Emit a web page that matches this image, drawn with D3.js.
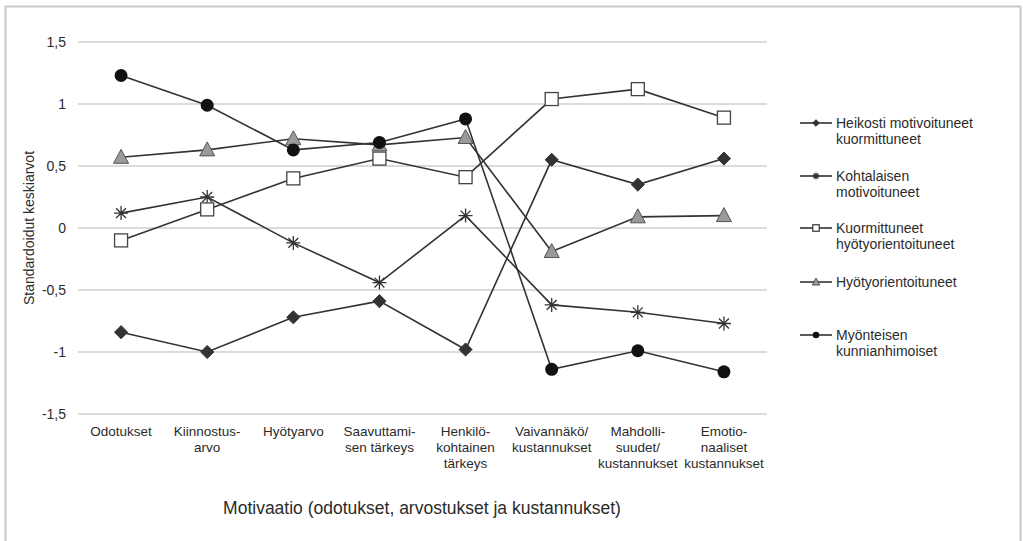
<!DOCTYPE html>
<html>
<head>
<meta charset="utf-8">
<title>Motivaatioprofiilit</title>
<script src="https://cdnjs.cloudflare.com/ajax/libs/d3/7.8.5/d3.min.js"></script>
<style>
  body { margin: 0; background: #fff; }
  svg text { font-family: "Liberation Sans", Arial, sans-serif; fill: #2b2b2b; }
</style>
</head>
<body>
<div id="chart"></div>
<script>
var categories = [
  ["Odotukset"],
  ["Kiinnostus-", "arvo"],
  ["Hyötyarvo"],
  ["Saavuttami-", "sen tärkeys"],
  ["Henkilö-", "kohtainen", "tärkeys"],
  ["Vaivannäkö/", "kustannukset"],
  ["Mahdolli-", "suudet/", "kustannukset"],
  ["Emotio-", "naaliset", "kustannukset"]
];
var yTicks = [1.5, 1, 0.5, 0, -0.5, -1, -1.5];

var heikosti = [-0.84, -1.0, -0.72, -0.59, -0.98, 0.55, 0.35, 0.56];
var kohtalaisen = [0.12, 0.25, -0.12, -0.44, 0.10, -0.62, -0.68, -0.77];
var kuormittuneet = [-0.10, 0.15, 0.40, 0.56, 0.41, 1.04, 1.12, 0.89];
var hyotyorient = [0.57, 0.63, 0.72, 0.67, 0.73, -0.19, 0.09, 0.10];
var myonteisen = [1.23, 0.99, 0.63, 0.69, 0.88, -1.14, -0.99, -1.16];

var seriesNames = [
  ["Heikosti motivoituneet", "kuormittuneet"],
  ["Kohtalaisen", "motivoituneet"],
  ["Kuormittuneet", "hyötyorientoituneet"],
  ["Hyötyorientoituneet"],
  ["Myönteisen", "kunnianhimoiset"]
];
var seriesData = [heikosti, kohtalaisen, kuormittuneet, hyotyorient, myonteisen];
var markers = ["diamond", "asterisk", "square", "triangle", "circle"];

var W = 1023, H = 541;
var svg = d3.select("#chart").append("svg").attr("width", W).attr("height", H);

// frame
svg.append("rect").attr("x", 5.5).attr("y", 6.5).attr("width", 1015).attr("height", 560)
  .attr("fill", "none").attr("stroke", "#c8c8c8").attr("stroke-width", 2);

var plotL = 78, plotR = 767, plotT = 42, plotB = 414;
var x = d3.scaleBand().domain(d3.range(categories.length)).range([plotL, plotR]);
var y = d3.scaleLinear().domain([-1.5, 1.5]).range([plotB, plotT]);
var cx = i => x(i) + x.bandwidth() / 2;

// gridlines
svg.append("g").selectAll("line").data(yTicks).join("line")
  .attr("x1", plotL).attr("x2", plotR)
  .attr("y1", d => y(d)).attr("y2", d => y(d))
  .attr("stroke", "#cfcfcf").attr("stroke-width", 1.5);

// y tick labels
svg.append("g").selectAll("text").data(yTicks).join("text")
  .attr("x", 66).attr("y", d => y(d)).attr("dy", "0.35em")
  .attr("text-anchor", "end").style("font-size", "14px")
  .text(d => String(d).replace(".", ","));

// x tick labels
var xl = svg.append("g").selectAll("text").data(categories).join("text")
  .attr("text-anchor", "middle").style("font-size", "13.5px")
  .attr("x", (d, i) => cx(i)).attr("y", 436);
xl.each(function (d, i) {
  d3.select(this).selectAll("tspan").data(d).join("tspan")
    .attr("x", cx(i)).attr("dy", (t, j) => j === 0 ? 0 : 16).text(t => t);
});

// axis titles
svg.append("text").attr("x", 422).attr("y", 514).attr("text-anchor", "middle")
  .style("font-size", "17.5px").text("Motivaatio (odotukset, arvostukset ja kustannukset)");
svg.append("text").attr("transform", "translate(34," + y(0) + ") rotate(-90)")
  .attr("text-anchor", "middle").style("font-size", "14px")
  .text("Standardoidut keskiarvot");

var line = d3.line().x((d, i) => cx(i)).y(d => y(d));

function drawMarker(g, type, s) {
  var k = s || 1;
  if (type === "diamond") {
    g.append("path").attr("d", d3.symbol(d3.symbolDiamond2, 110 * k * k)())
      .attr("fill", "#333").attr("stroke", "#333").attr("stroke-width", 1);
  } else if (type === "circle") {
    g.append("circle").attr("r", 6.5 * k).attr("fill", "#111");
  } else if (type === "square") {
    g.append("rect").attr("x", -6.5 * k).attr("y", -6.5 * k).attr("width", 13 * k).attr("height", 13 * k)
      .attr("fill", "#fff").attr("stroke", "#444").attr("stroke-width", 1.3);
  } else if (type === "triangle") {
    g.append("path").attr("d", "M0," + (-8 * k) + "L" + (7.5 * k) + "," + (6 * k) + "L" + (-7.5 * k) + "," + (6 * k) + "Z")
      .attr("fill", "#9a9a9a").attr("stroke", "#555").attr("stroke-width", 1);
  } else if (type === "asterisk") {
    var r = 7 * k;
    var p = "";
    [0, 45, 90, 135].forEach(function (a) {
      var rad = a * Math.PI / 180, dx = Math.cos(rad) * r, dy = Math.sin(rad) * r;
      p += "M" + (-dx) + "," + (-dy) + "L" + dx + "," + dy;
    });
    g.append("path").attr("d", p).attr("stroke", "#333").attr("stroke-width", 1.3).attr("fill", "none");
  }
}

// lines first, then markers
seriesData.forEach(function (vals) {
  svg.append("path").datum(vals).attr("d", line)
    .attr("fill", "none").attr("stroke", "#333").attr("stroke-width", 1.6);
});
seriesData.forEach(function (vals, si) {
  vals.forEach(function (v, i) {
    var g = svg.append("g").attr("transform", "translate(" + cx(i) + "," + y(v) + ")");
    drawMarker(g, markers[si]);
  });
});

// legend
var legY = [123, 176, 228, 282, 335];
seriesNames.forEach(function (names, si) {
  var g = svg.append("g").attr("transform", "translate(800," + legY[si] + ")");
  g.append("line").attr("x1", 0).attr("x2", 32).attr("stroke", "#333").attr("stroke-width", 1.6);
  var mg = g.append("g").attr("transform", "translate(16,0)");
  drawMarker(mg, markers[si], 0.5);
  var t = g.append("text").attr("x", 36).attr("y", 0).style("font-size", "14px");
  names.forEach(function (n, j) {
    t.append("tspan").attr("x", 36).attr("dy", j === 0 ? "0.35em" : 16.5).text(n);
  });
});
</script>
</body>
</html>
